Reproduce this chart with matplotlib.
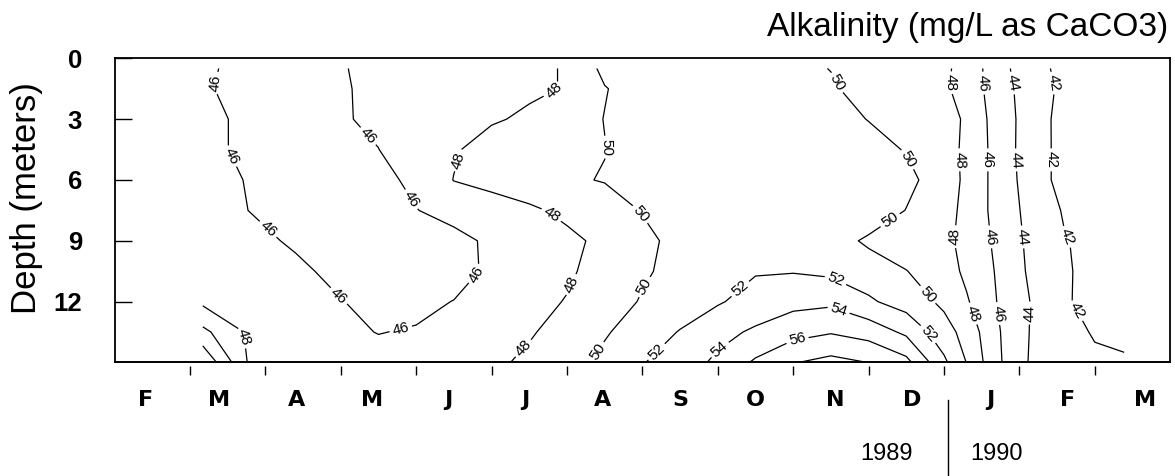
import numpy as np
import matplotlib
matplotlib.use("Agg")
import matplotlib.pyplot as plt
from matplotlib.lines import Line2D

plt.rcParams["font.family"] = ["Liberation Sans", "DejaVu Sans"]

# Sampling times (months after 1 Feb 1989) and sampling depths (m)
sample_month = [1.17, 1.8, 2.4, 3.0, 3.5, 4.0, 4.5, 5.0, 5.5, 6.0, 6.5, 7.0, 7.5,
                8.0, 8.5, 9.0, 9.5, 10.0, 10.5, 11.0, 11.3, 11.6, 11.9, 12.2,
                12.6, 13.0, 13.39]
sample_depth = [0.5, 1.5, 3.0, 4.5, 6.0, 7.5, 9.0, 10.5, 12.0, 13.5, 15.0]

# Alkalinity (mg/L as CaCO3) at each depth, one value per sampling time
alk_00_5m = [46.25, 45.5, 45.3, 45.9, 46.4, 46.7, 47.0, 47.3, 47.7, 48.1, 50.5, 50.8, 51.0,
             51.0, 50.8, 50.5, 49.95, 49.4, 48.9, 48.25, 47.5, 45.4, 43.9, 42.9, 41.2, 41.0, 41.2]
alk_01_5m = [46.2, 45.4, 45.2, 45.85, 46.35, 46.7, 47.0, 47.3, 47.7, 48.1, 49.9, 50.9, 51.1,
             51.2, 51.0, 50.7, 50.25, 49.2, 48.7, 48.2, 47.5, 45.5, 44.1, 43.0, 41.5, 41.2, 41.3]
alk_03_0m = [46.35, 45.7, 45.4, 45.85, 46.3, 46.8, 47.3, 47.8, 48.3, 49.0, 50.05, 51.0, 51.3,
             51.4, 51.3, 51.0, 50.6, 49.95, 49.3, 48.55, 47.8, 45.8, 44.2, 43.1, 41.1, 41.0, 41.2]
alk_04_5m = [46.35, 45.7, 45.3, 45.5, 45.98, 47.0, 47.8, 48.8, 49.2, 49.6, 49.95, 51.0, 51.5,
             51.6, 51.5, 51.3, 51.0, 50.6, 49.9, 48.8, 47.6, 45.9, 44.2, 43.0, 41.2, 41.0, 41.2]
alk_06_0m = [46.55, 45.9, 45.4, 45.2, 45.5, 46.4, 48.05, 48.6, 49.1, 49.75, 50.1, 50.8, 51.3,
             51.5, 51.6, 51.5, 51.3, 51.0, 50.5, 49.0, 47.6, 45.9, 44.3, 43.0, 41.2, 41.0, 41.2]
alk_07_5m = [46.6, 45.97, 45.3, 45.0, 45.2, 45.95, 46.6, 47.1, 47.7, 48.4, 49.1, 50.1, 51.0,
             51.5, 51.8, 51.8, 51.6, 51.2, 49.95, 48.7, 47.5, 45.9, 44.4, 43.3, 41.8, 41.3, 41.3]
alk_09_0m = [46.7, 46.4, 45.8, 45.1, 44.9, 45.0, 45.5, 46.3, 47.0, 47.6, 48.4, 49.5, 50.6,
             51.3, 51.7, 51.6, 50.8, 49.7, 49.0, 48.5, 47.4, 46.1, 44.5, 43.5, 42.1, 41.5, 41.4]
alk_10_5m = [46.9, 46.7, 46.3, 45.6, 45.1, 44.9, 45.2, 46.4, 47.1, 47.7, 48.8, 49.75, 50.6,
             51.3, 51.85, 51.9, 51.6, 50.9, 50.05, 48.9, 47.6, 46.4, 44.6, 43.6, 42.15, 41.6, 41.5]
alk_12_0m = [47.6, 47.0, 46.6, 46.05, 45.6, 45.5, 46.05, 46.8, 47.4, 48.1, 49.1, 50.15, 51.0,
             51.8, 52.8, 53.4, 53.6, 52.3, 51.1, 49.6, 48.2, 46.6, 44.8, 43.8, 42.1, 41.7, 41.6]
alk_13_5m = [50.5, 47.6, 46.9, 46.35, 45.95, 46.15, 46.5, 47.0, 47.8, 48.8, 49.8, 51.0, 52.1,
             53.4, 54.3, 55.3, 55.85, 55.2, 53.6, 50.8, 49.3, 47.0, 45.0, 43.7, 42.8, 41.8, 41.8]
alk_15_0m = [53.8, 47.6, 47.0, 46.6, 46.6, 46.8, 47.1, 47.6, 48.4, 49.2, 50.5, 51.9, 53.0,
             54.4, 56.3, 57.9, 58.6, 57.98, 56.6, 52.4, 49.95, 47.3, 45.0, 43.6, 43.0, 42.4, 42.1]

contour_levels = [42, 44, 46, 48, 50, 52, 54, 56, 58]
labelled_levels = [42, 44, 46, 48, 50, 52, 54, 56]

month_letters = ["F", "M", "A", "M", "J", "J", "A", "S", "O", "N", "D", "J", "F", "M"]
month_boundaries = list(range(1, 14))

# Where the month letters sit along the time axis
month_label_pos = [0.412, 1.385, 2.415, 3.410, 4.422, 5.443, 6.477, 7.507,
                   8.493, 9.557, 10.576, 11.610, 12.645, 13.666]

# Spots along the isolines where the value labels go (month, depth)
label_spots = [
    (1.33, 1.22), (1.50, 4.92), (1.99, 8.61), (2.96, 11.77), (3.81, 13.55),
    (4.78, 10.59), (3.92, 6.99), (3.35, 3.88),
    (1.73, 13.74),
    (5.87, 1.91), (4.54, 5.01), (5.81, 7.63), (6.07, 11.18), (5.42, 14.29),
    (6.54, 4.37), (7.01, 7.58), (7.03, 11.28), (6.41, 14.48),
    (7.19, 14.48), (8.39, 11.77), (9.53, 11.18), (10.81, 13.55),
    (8.03, 14.38), (9.58, 12.66),
    (9.05, 13.79),
    (9.60, 1.17), (10.58, 4.87), (10.24, 7.73), (10.75, 11.77),
    (11.15, 1.22), (11.19, 5.01), (11.17, 8.81), (11.41, 12.56),
    (11.54, 1.22), (11.57, 5.01), (11.61, 8.81), (11.77, 12.56),
    (11.91, 1.22), (11.97, 5.01), (12.05, 8.81), (12.11, 12.56),
    (12.45, 1.22), (12.45, 5.01), (12.63, 8.81), (12.71, 12.56),
]

alkalinity = np.array([alk_00_5m, alk_01_5m, alk_03_0m, alk_04_5m, alk_06_0m, alk_07_5m,
                       alk_09_0m, alk_10_5m, alk_12_0m, alk_13_5m, alk_15_0m])

fig = plt.figure(figsize=(11.75, 4.76), dpi=100)
ax = fig.add_axes([0.0975, 0.2385, 0.8984, 0.639])
ax.set_xlim(0, 14)
ax.set_ylim(15, 0)

cs = ax.contour(sample_month, sample_depth, alkalinity, levels=contour_levels,
                colors="black", linewidths=0.9)
ax.clabel(cs, levels=labelled_levels, manual=label_spots, inline=True,
          inline_spacing=3, fmt="%d", fontsize=11)

# Frame: bottom tick marks sit slightly below the frame line
for side in ("top", "left", "right"):
    ax.spines[side].set_linewidth(1.3)
ax.spines["bottom"].set_position(("outward", 2.6))
ax.spines["bottom"].set_color("none")
ax.add_line(Line2D([0, 1], [0, 0], transform=ax.transAxes, color="black",
                   linewidth=1.4, clip_on=False))

# Depth axis
ax.set_yticks([0, 3, 6, 9, 12])
ax.set_yticklabels(["0", "3", "6", "9", "12"],
                   fontfamily=["Liberation Sans Narrow", "Liberation Sans"],
                   fontweight="bold", fontsize=18.5)
ax.tick_params(axis="y", direction="in", length=12, width=1, pad=23.5)

# Time axis: tick marks at month boundaries, letters between them
ax.set_xticks(month_boundaries)
ax.set_xticklabels([])
ax.tick_params(axis="x", which="major", direction="out", length=6.5, width=1)
ax.set_xticks(month_label_pos, minor=True)
ax.set_xticklabels(month_letters, minor=True, fontfamily=["DejaVu Sans"],
                   fontweight="bold", fontsize=16)
ax.tick_params(axis="x", which="minor", length=0, pad=17.5)

fig.text(27 / 1175, 1 - 198.5 / 476, "Depth (meters)", rotation=90,
         ha="center", va="center", fontsize=25)
fig.text(1168 / 1175, 1 - 35.7 / 476, "Alkalinity (mg/L as CaCO3)",
         ha="right", va="baseline", fontsize=24)

# Year captions with a divider at the turn of the year
fig.text(887 / 1175, 1 - 460 / 476, "1989", ha="center", va="baseline", fontsize=17)
fig.text(997 / 1175, 1 - 460 / 476, "1990", ha="center", va="baseline", fontsize=17)
fig.add_artist(Line2D([948 / 1175, 948 / 1175], [1 - 400 / 476, 0],
                      transform=fig.transFigure, color="black", linewidth=1))

fig.savefig("out.png", dpi=100)
